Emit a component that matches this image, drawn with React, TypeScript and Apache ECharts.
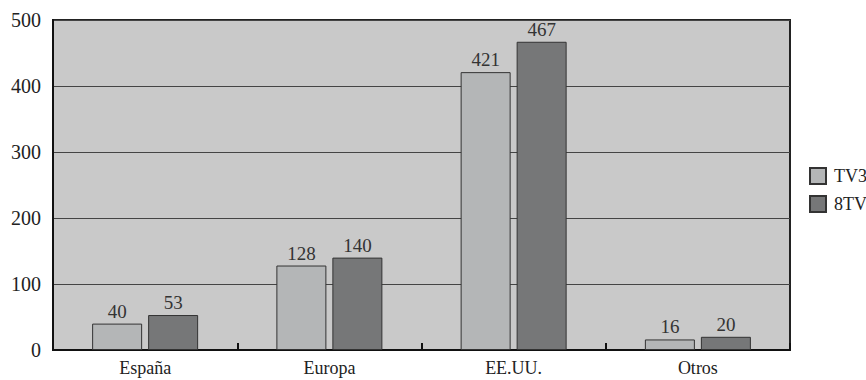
import React, { useEffect, useRef } from "react";
import * as echarts from "echarts";

const categories = ["España", "Europa", "EE.UU.", "Otros"];
const tv3Values = [40, 128, 421, 16];
const tv8Values = [53, 140, 467, 20];
const seriesNames = ["TV3", "8TV"];

const FONT = "'Liberation Serif', 'DejaVu Serif', serif";

export default function App() {
  const ref = useRef<HTMLDivElement>(null);
  useEffect(() => {
    if (!ref.current) return;
    const chart = echarts.init(ref.current, undefined, { renderer: "svg" });
    const label = {
      show: true,
      position: "top",
      distance: 3,
      color: "#333",
      fontFamily: FONT,
      fontSize: 19,
    };
    chart.setOption({
      animation: false,
      textStyle: { fontFamily: FONT },
      legend: {
        orient: "vertical",
        left: 804,
        top: 162,
        itemWidth: 16,
        itemHeight: 16,
        itemGap: 10,
        icon: "rect",
        textStyle: { fontFamily: FONT, fontSize: 18, color: "#222", padding: [0, 0, 0, 3] },
        data: seriesNames,
      },
      grid: {
        left: 53,
        right: 76,
        top: 20,
        bottom: 30,
        show: true,
        backgroundColor: "#c9c9c9",
        borderColor: "#222",
        borderWidth: 2,
      },
      xAxis: {
        type: "category",
        data: categories,
        axisLine: { lineStyle: { color: "#111", width: 2 } },
        axisTick: { show: true, inside: true, length: 7, lineStyle: { color: "#111", width: 2 } },
        axisLabel: { color: "#222", fontFamily: FONT, fontSize: 18, margin: 9 },
      },
      yAxis: {
        type: "value",
        min: 0,
        max: 500,
        interval: 100,
        axisLine: { show: true, lineStyle: { color: "#111", width: 2 } },
        axisTick: { show: false },
        axisLabel: { color: "#222", fontFamily: FONT, fontSize: 20, margin: 12 },
        splitLine: { lineStyle: { color: "#444", width: 1 } },
      },
      series: [
        {
          name: seriesNames[0],
          type: "bar",
          data: tv3Values,
          barWidth: 50,
          barGap: "12%",
          itemStyle: { color: "#b4b6b7", borderColor: "#333", borderWidth: 1 },
          label,
        },
        {
          name: seriesNames[1],
          type: "bar",
          data: tv8Values,
          barWidth: 50,
          itemStyle: { color: "#767778", borderColor: "#333", borderWidth: 1 },
          label,
        },
      ],
    });
    return () => chart.dispose();
  }, []);
  return (
    <div
      ref={ref}
      style={{ position: "absolute", left: 0, top: 0, width: 866, height: 380 }}
    />
  );
}
